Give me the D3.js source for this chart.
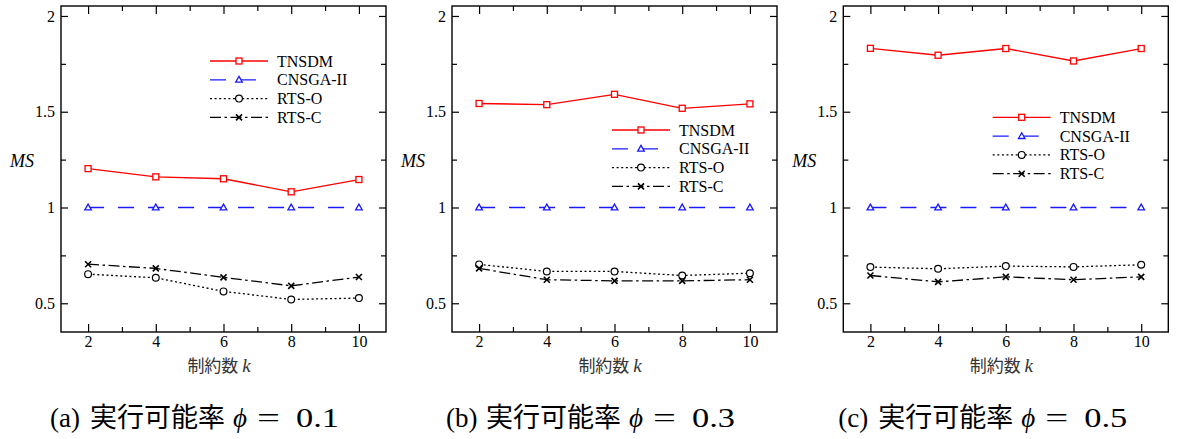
<!DOCTYPE html>
<html>
<head>
<meta charset="utf-8">
<script src="https://cdn.jsdelivr.net/npm/d3@7"></script>
<style>
  html, body { margin: 0; padding: 0; background: #fff; }
  svg { display: block; }
  .serif { font-family: "Liberation Serif", "Times New Roman", Tinos, "DejaVu Serif", serif; }
  .cjk { font-family: "Noto Sans CJK JP", "Noto Sans CJK SC", sans-serif; }
</style>
</head>
<body>
<svg id="chart" width="1177" height="439"></svg>
<script>
// Constraint count k on the x axis
const kValues = [2, 4, 6, 8, 10];
const xMajorTicks = [2, 4, 6, 8, 10];
const xMinorTicks = [3, 5, 7, 9];
const yMajorTicks = [0.5, 1, 1.5, 2];
const yMinorTicks = [0.75, 1.25, 1.75];

// MS values, feasibility ratio phi = 0.1
const tnsdmA   = [1.203, 1.160, 1.150, 1.082, 1.146];
const cnsgaA   = [1.0, 1.0, 1.0, 1.0, 1.0];
const rtsOA    = [0.652, 0.633, 0.562, 0.520, 0.527];
const rtsCA    = [0.704, 0.682, 0.635, 0.591, 0.637];

// phi = 0.3
const tnsdmB   = [1.543, 1.537, 1.591, 1.518, 1.541];
const cnsgaB   = [1.0, 1.0, 1.0, 1.0, 1.0];
const rtsOB    = [0.703, 0.666, 0.666, 0.645, 0.657];
const rtsCB    = [0.682, 0.623, 0.617, 0.617, 0.623];

// phi = 0.5
const tnsdmC   = [1.831, 1.795, 1.830, 1.765, 1.830];
const cnsgaC   = [1.0, 1.0, 1.0, 1.0, 1.0];
const rtsOC    = [0.689, 0.680, 0.694, 0.690, 0.701];
const rtsCC    = [0.645, 0.612, 0.638, 0.623, 0.638];

const seriesNames = ["TNSDM", "CNSGA-II", "RTS-O", "RTS-C"];
const panelTags = ["(a)", "(b)", "(c)"];
const phiLabels = ["0.1", "0.3", "0.5"];
const yTitle = "MS";
const xTitleText = "制約数";
const xTitleVar = "k";
const captionText = "実行可能率";

const seriesStyle = {
  "TNSDM":    { color: "#ff0000", dash: null,             marker: "square",   legendLen: 58 },
  "CNSGA-II": { color: "#1a1aff", dash: "16,14",          marker: "triangle", legendLen: 46 },
  "RTS-O":    { color: "#000000", dash: "2,2.6",          marker: "circle",   legendLen: 58 },
  "RTS-C":    { color: "#000000", dash: "11,3.5,2.5,3.5", marker: "cross",    legendLen: 58 }
};

const panels = [
  { left: 61,    legend: { x: 149,   y: 61 },    capStart: -11 },
  { left: 452,   legend: { x: 160,   y: 130 },   capStart: -6 },
  { left: 843.3, legend: { x: 149.4, y: 117.3 }, capStart: -5 }
];
const panelValues = [
  [tnsdmA, cnsgaA, rtsOA, rtsCA],
  [tnsdmB, cnsgaB, rtsOB, rtsCB],
  [tnsdmC, cnsgaC, rtsOC, rtsCC]
];

const W = 325, H = 326, TOP = 6;

const svg = d3.select("#chart");

function drawMarker(g, type, color) {
  if (type === "square") {
    g.append("rect").attr("x", -3).attr("y", -3).attr("width", 6).attr("height", 6)
      .attr("fill", "#fff").attr("stroke", color).attr("stroke-width", 1.3);
  } else if (type === "triangle") {
    g.append("path").attr("d", "M0,-3.4L3.3,2.4L-3.3,2.4Z")
      .attr("fill", "#fff").attr("stroke", color).attr("stroke-width", 1.3);
  } else if (type === "circle") {
    g.append("circle").attr("r", 3.4)
      .attr("fill", "#fff").attr("stroke", color).attr("stroke-width", 1.2);
  } else {
    g.append("path").attr("d", "M-3,-3L3,3M-3,3L3,-3")
      .attr("fill", "none").attr("stroke", color).attr("stroke-width", 1.6);
  }
}

panels.forEach((p, pi) => {
  const x = d3.scaleLinear().domain([1.2, 10.8]).range([0, W]);
  const y = d3.scaleLinear().domain([0.35, 2.052]).range([H, 0]);

  const g = svg.append("g").attr("transform", `translate(${p.left},${TOP})`);

  // Inward ticks on all four sides
  const styleAxis = sel => {
    sel.attr("font-family", null).attr("font-size", null);
    sel.select(".domain").remove();
    sel.selectAll(".tick line").attr("stroke", "#000").attr("stroke-width", 1.2);
    sel.selectAll("text").attr("class", "serif").style("font-size", "16px").attr("fill", "#000");
  };

  g.append("g").attr("transform", `translate(0,${H})`)
    .call(d3.axisBottom(x).tickValues(xMajorTicks).tickSize(-8).tickPadding(4).tickFormat(d3.format("d")))
    .call(styleAxis);
  g.append("g").attr("transform", `translate(0,${H})`)
    .call(d3.axisBottom(x).tickValues(xMinorTicks).tickSize(-5).tickFormat(""))
    .call(styleAxis);
  g.append("g")
    .call(d3.axisTop(x).tickValues(xMajorTicks).tickSize(-8).tickFormat(""))
    .call(styleAxis);
  g.append("g")
    .call(d3.axisTop(x).tickValues(xMinorTicks).tickSize(-5).tickFormat(""))
    .call(styleAxis);

  g.append("g")
    .call(d3.axisLeft(y).tickValues(yMajorTicks).tickSize(-7).tickPadding(6).tickFormat(d => String(d)))
    .call(styleAxis);
  g.append("g")
    .call(d3.axisLeft(y).tickValues(yMinorTicks).tickSize(-5).tickFormat(""))
    .call(styleAxis);
  g.append("g").attr("transform", `translate(${W},0)`)
    .call(d3.axisRight(y).tickValues(yMajorTicks).tickSize(-7).tickFormat(""))
    .call(styleAxis);
  g.append("g").attr("transform", `translate(${W},0)`)
    .call(d3.axisRight(y).tickValues(yMinorTicks).tickSize(-5).tickFormat(""))
    .call(styleAxis);

  // Frame
  g.append("rect").attr("width", W).attr("height", H)
    .attr("fill", "none").attr("stroke", "#000").attr("stroke-width", 1.4);

  // Series lines and markers
  const line = d3.line().x(d => x(d[0])).y(d => y(d[1]));
  seriesNames.forEach((name, si) => {
    const st = seriesStyle[name];
    const pts = kValues.map((k, i) => [k, panelValues[pi][si][i]]);
    g.append("path").datum(pts)
      .attr("d", line)
      .attr("fill", "none")
      .attr("stroke", st.color)
      .attr("stroke-width", 1.3)
      .attr("stroke-dasharray", st.dash);
    pts.forEach(d => {
      const m = g.append("g").attr("transform", `translate(${x(d[0])},${y(d[1])})`);
      drawMarker(m, st.marker, st.color);
    });
  });

  // Legend
  const lg = g.append("g").attr("transform", `translate(${p.legend.x},${p.legend.y - TOP})`);
  seriesNames.forEach((name, si) => {
    const st = seriesStyle[name];
    const row = lg.append("g").attr("transform", `translate(0,${si * 18.8})`);
    row.append("line").attr("x1", 0).attr("x2", st.legendLen).attr("y1", 0).attr("y2", 0)
      .attr("stroke", st.color).attr("stroke-width", 1.3)
      .attr("stroke-dasharray", st.dash);
    const m = row.append("g").attr("transform", "translate(29,0)");
    drawMarker(m, st.marker, st.color);
    row.append("text").attr("class", "serif").attr("x", 67).attr("y", 5.5)
      .style("font-size", "16px").attr("fill", "#000")
      .text(name);
  });

  // Y axis title
  g.append("text").attr("class", "serif").attr("x", -39).attr("y", 160.5 - TOP + 6)
    .attr("text-anchor", "middle")
    .style("font-style", "italic").style("font-size", "18px")
    .text(yTitle);

  // X axis title
  const xt = g.append("text").attr("x", 158).attr("y", 372 - TOP)
    .attr("text-anchor", "middle").attr("fill", "#333");
  xt.append("tspan").attr("class", "cjk").style("font-size", "17px").text(xTitleText + " ");
  xt.append("tspan").attr("class", "serif").style("font-style", "italic").style("font-size", "19px").text(xTitleVar);

  // Panel caption
  const cap = g.append("g").attr("transform", `translate(${p.capStart},${427 - TOP})`);
  cap.append("text").attr("class", "serif").attr("x", 0).style("font-size", "27px").text(panelTags[pi]);
  cap.append("text").attr("class", "cjk").attr("x", 40).style("font-size", "27px").text(captionText);
  cap.append("text").attr("class", "serif").attr("x", 183).style("font-style", "italic").style("font-size", "27px").text("ϕ");
  cap.append("text").attr("class", "serif").attr("x", 207).style("font-size", "28px")
    .attr("textLength", 23).attr("lengthAdjust", "spacingAndGlyphs").text("=");
  cap.append("text").attr("class", "serif").attr("x", 246).style("font-size", "28px")
    .attr("textLength", 43).attr("lengthAdjust", "spacingAndGlyphs").text(phiLabels[pi]);
});
</script>
</body>
</html>
